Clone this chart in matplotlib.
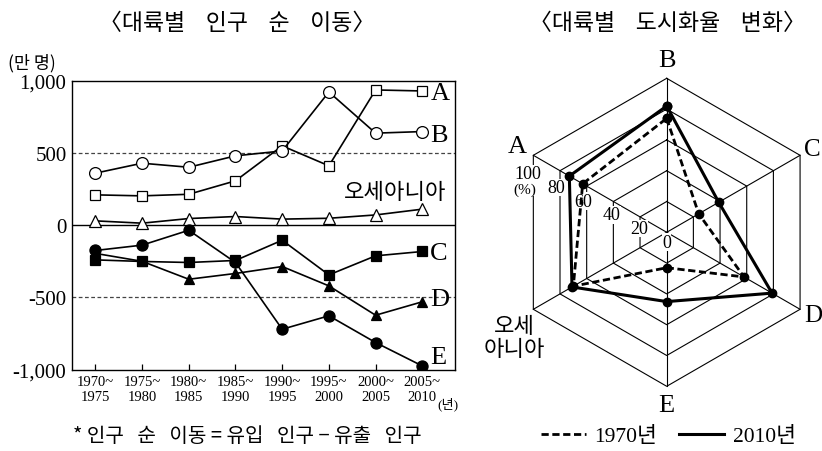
import numpy as np
import matplotlib
matplotlib.use("Agg")
import matplotlib.pyplot as plt
from matplotlib.lines import Line2D

SERIF = ["Liberation Serif", "Noto Sans CJK KR"]
KR = ["Noto Sans CJK KR", "DejaVu Sans"]
plt.rcParams["font.family"] = SERIF

# left chart: net migration (만 명)
periods = ["1970~\n1975", "1975~\n1980", "1980~\n1985", "1985~\n1990",
           "1990~\n1995", "1995~\n2000", "2000~\n2005", "2005~\n2010"]
net_A = [210, 203, 214, 307, 549, 411, 936, 929]
net_B = [360, 429, 401, 480, 514, 922, 637, 648]
net_oceania = [30, 14, 46, 60, 42, 48, 71, 111]
net_C = [-240, -251, -258, -244, -104, -344, -212, -182]
net_D = [-195, -250, -374, -334, -286, -420, -623, -530]
net_E = [-175, -138, -35, -258, -720, -627, -812, -974]
y_ticks = [-1000, -500, 0, 500, 1000]
y_labels = ["-1,000", "-500", "0", "500", "1,000"]

# right chart: urbanization rate (%)
regions = ["B", "C", "D", "E", "오세아니아", "A"]
urban_1970 = [74, 24, 58, 23, 70, 63]
urban_2010 = [82, 39, 79, 45, 71, 73]
rings = [20, 40, 60, 80, 100]

W, H = 822, 452
fig = plt.figure(figsize=(W / 100, H / 100), dpi=100)


def px_box(x0, y0, x1, y1):
    return [x0 / W, 1 - y1 / H, (x1 - x0) / W, (y1 - y0) / H]


# ---- left: line chart ----
ax = fig.add_axes(px_box(72, 81.7, 455, 370.7))
x = np.arange(len(periods))
ax.set_xlim(-0.5, 7.7)
ax.set_ylim(-1000, 1000)

ax.axhline(500, color="#444444", lw=0.9, ls=(0, (3, 2)), zorder=1)
ax.axhline(-500, color="#444444", lw=0.9, ls=(0, (3, 2)), zorder=1)
ax.axhline(0, color="black", lw=1.0, zorder=1)

lk = dict(color="black", lw=1.2, markeredgecolor="black", markeredgewidth=0.9, zorder=3)
ax.plot(x, net_oceania, marker="^", ms=8, markerfacecolor="white", **lk)
ax.plot(x, net_A, marker="s", ms=7, markerfacecolor="white", **lk)
ax.plot(x, net_B, marker="o", ms=8.5, markerfacecolor="white", **lk)
ax.plot(x, net_C, marker="s", ms=6.5, markerfacecolor="black", **lk)
ax.plot(x, net_D, marker="^", ms=7.5, markerfacecolor="black", **lk)
ax.plot(x, net_E, marker="o", ms=8, markerfacecolor="black", **lk)

for name, yy in [("A", 915), ("B", 625), ("C", -190), ("D", -510), ("E", -915)]:
    ax.text(7.17, yy, name, fontsize=19, ha="left", va="center")
ax.text(7.52, 235, "오세아니아", family=KR, fontsize=16, ha="right", va="center")

ax.set_yticks(y_ticks)
ax.set_yticklabels(y_labels, fontsize=15)
ax.set_xticks(x)
ax.set_xticklabels(periods, fontsize=10.5)
for lbl in ax.get_xticklabels():
    lbl.set_linespacing(1.15)
ax.tick_params(axis="y", length=0, pad=4)
ax.tick_params(axis="x", direction="in", length=4, width=0.9, pad=4)
for sp in ax.spines.values():
    sp.set_linewidth(1.0)
ax.annotate("(년)", xy=(7, 0), xycoords=("data", "axes fraction"),
            xytext=(11, -24), textcoords="offset points",
            fontsize=9.5, family=SERIF, ha="left", va="center")

fig.text(8 / W, 1 - 63 / H, "(만 명)", family=KR, fontsize=12.5, ha="left", va="center")
fig.text(237 / W, 1 - 23 / H, "〈대륙별    인구    순    이동〉", family=KR, fontsize=16.5,
         ha="center", va="center")
fig.text(73 / W, 1 - 437 / H, "* 인구   순   이동 = 유입   인구 − 유출   인구", family=KR,
         fontsize=14.5, ha="left", va="center")

# ---- right: hexagon radar ----
cx, cy, s = 666.7, 233.3, 1.54
x0, x1, y0, y1 = 470, 822, 50, 420
ax2 = fig.add_axes(px_box(x0, y0, x1, y1))
ax2.set_xlim((x0 - cx) / s, (x1 - cx) / s)
ax2.set_ylim((cy - y1) / s, (cy - y0) / s)
ax2.axis("off")

n = len(regions)
theta = np.deg2rad(90 - 360 / n * np.arange(n))
closed = np.append(theta, theta[0])

for r in rings:
    ax2.plot(r * np.cos(closed), r * np.sin(closed), color="black", lw=0.8, zorder=1)
for t in theta:
    ax2.plot([0, 100 * np.cos(t)], [0, 100 * np.sin(t)], color="black", lw=0.8, zorder=1)

v70 = np.append(urban_1970, urban_1970[0])
v10 = np.append(urban_2010, urban_2010[0])
dash = (0, (2.6, 1.3))
ax2.plot(v70 * np.cos(closed), v70 * np.sin(closed), color="black", lw=2.0, ls=dash,
         marker="o", ms=6, zorder=3)
ax2.plot(v10 * np.cos(closed), v10 * np.sin(closed), color="black", lw=2.2,
         marker="o", ms=6, zorder=4)

for name, t in zip(regions, theta):
    if name == "오세아니아":
        ax2.text(-99, -68, "오세\n아니아", family=KR, fontsize=16, ha="center",
                 va="center", linespacing=1.0)
    elif np.cos(t) > 0.5:
        ax2.text(89, 108 * np.sin(t), name, fontsize=18, ha="left", va="center")
    else:
        ax2.text(112 * np.cos(t), 112 * np.sin(t), name, fontsize=19,
                 ha="center", va="center")

for k in [0] + rings:
    ax2.text(-0.9 * k, 0.445 * k - 6.5, str(k), fontsize=13, ha="center", va="center",
             zorder=2, bbox=dict(facecolor="white", edgecolor="none", pad=0.3))
ax2.text(-92, 28, "(%)", fontsize=11, ha="center", va="center", zorder=2,
         bbox=dict(facecolor="white", edgecolor="none", pad=0.3))

fig.text(667 / W, 1 - 23 / H, "〈대륙별    도시화율    변화〉", family=KR, fontsize=16.5,
         ha="center", va="center")

handles = [Line2D([], [], color="black", lw=2.0, ls=dash),
           Line2D([], [], color="black", lw=2.2)]
fig.legend(handles, ["1970년", "2010년"], loc="center",
           bbox_to_anchor=(668 / W, 1 - 437 / H), ncol=2, frameon=False,
           handlelength=2.1, handletextpad=0.4, columnspacing=1.0,
           prop=dict(family=SERIF, size=15.5))

fig.savefig("out.png", dpi=100)
